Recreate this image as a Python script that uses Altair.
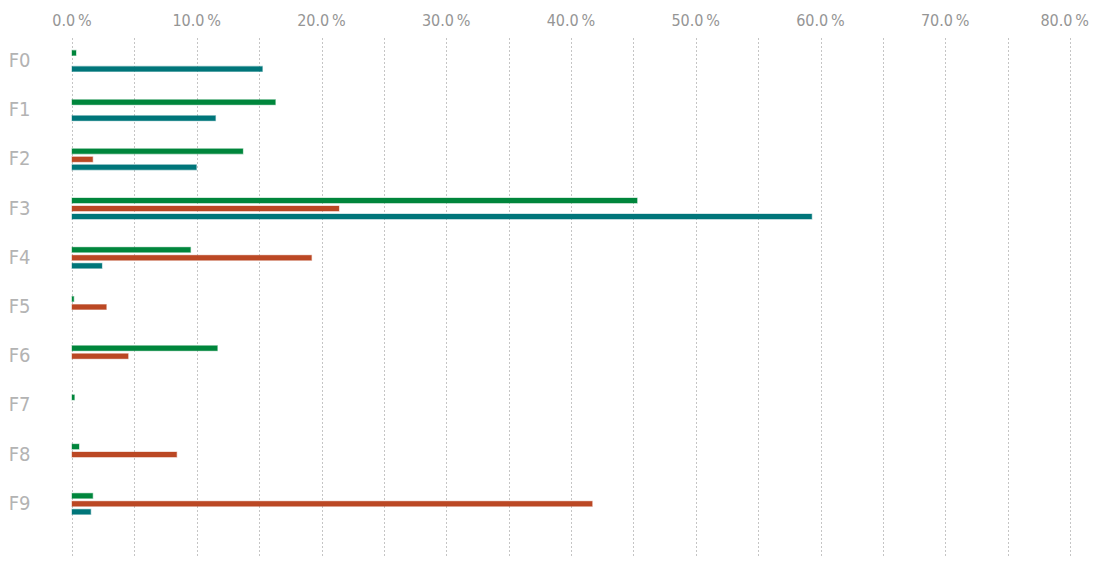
import altair as alt
import pandas as pd

categories = ["F0", "F1", "F2", "F3", "F4", "F5", "F6", "F7", "F8", "F9"]
series = ["A", "B", "C"]
colors = ["#00863c", "#bb4824", "#00767a"]
values_a = [0.0032, 0.163, 0.137, 0.453, 0.095, 0.0014, 0.1165, 0.0019, 0.0056, 0.0166]
values_b = [None, None, 0.0166, 0.214, 0.192, 0.0275, 0.045, None, 0.0839, 0.417]
values_c = [0.1526, 0.115, 0.0997, 0.593, 0.024, None, None, None, None, 0.015]
tick_values = [0.0, 0.1, 0.2, 0.3, 0.4, 0.5, 0.6, 0.7, 0.8]
tick_labels = ["0.0\u2009%", "10.0\u2009%", "20.0\u2009%", "30.0\u2009%", "40.0\u2009%",
               "50.0\u2009%", "60.0\u2009%", "70.0\u2009%", "80.0\u2009%"]

rows = []
for s, vals in zip(series, [values_a, values_b, values_c]):
    for c, v in zip(categories, vals):
        if v is not None:
            rows.append({"cat": c, "series": s, "value": v})
df = pd.DataFrame(rows)
df_lab = pd.DataFrame({"value": tick_values, "label": tick_labels})

FONT = "DejaVu Sans Condensed, Roboto, sans-serif"
grid_vals = [i * 0.05 for i in range(17)]

color_scale = alt.Scale(domain=series, range=colors)
x_scale = alt.Scale(domain=[0, 0.8], nice=False)
x_axis = alt.Axis(orient="top", values=grid_vals, title=None, labels=False,
                  domain=False, ticks=False, tickSize=0,
                  grid=True, gridColor="#8a8a8a", gridDash=[1, 3], gridWidth=1)

bars = alt.Chart(df).mark_bar(strokeWidth=1.2, strokeOpacity=0.35).encode(
    x=alt.X("value:Q", scale=x_scale, axis=x_axis),
    y=alt.Y("cat:N", sort=categories,
            scale=alt.Scale(domain=categories, paddingInner=0.573, paddingOuter=0.55, align=0.23),
            axis=alt.Axis(title=None, domain=False, ticks=False, tickSize=0, grid=False,
                          labelPadding=42, labelFont=FONT, labelFontSize=20,
                          labelColor="#b3b3b3")),
    yOffset=alt.YOffset("series:N", sort=series,
                        scale=alt.Scale(domain=series, paddingInner=0.375, paddingOuter=0)),
    color=alt.Color("series:N", scale=color_scale, legend=None),
    stroke=alt.Stroke("series:N", scale=color_scale, legend=None),
)

lab_mid = alt.Chart(df_lab).transform_filter("datum.value < 0.75").mark_text(
    font=FONT, fontSize=16, color="#959595", baseline="bottom", align="center"
).encode(x=alt.X("value:Q", scale=x_scale, axis=x_axis), y=alt.value(-9), text="label:N")

lab_end = alt.Chart(df_lab).transform_filter("datum.value > 0.75").mark_text(
    font=FONT, fontSize=16, color="#959595", baseline="bottom", align="right", dx=19
).encode(x=alt.X("value:Q", scale=x_scale, axis=x_axis), y=alt.value(-9), text="label:N")

chart = alt.layer(bars, lab_mid, lab_end).properties(
    width=998, height=518,
    autosize=alt.AutoSizeParams(type="none"),
    padding={"left": 64, "top": 30, "right": 19, "bottom": 0},
).configure_view(stroke=None)

chart.save("out.html", embed_options={"renderer": "svg", "actions": False})
